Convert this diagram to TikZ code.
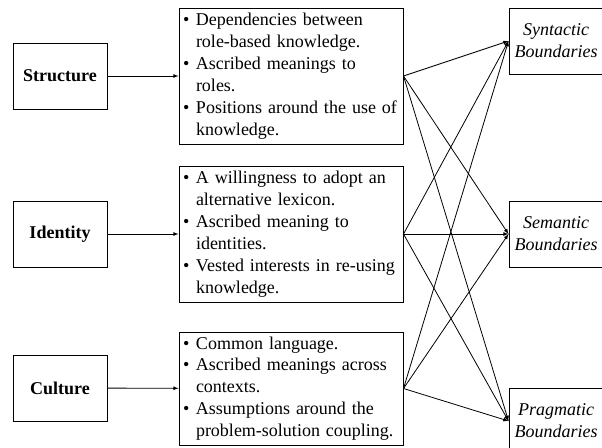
\documentclass[tikz,border=0pt]{standalone}
\usepackage{fontspec}
\setmainfont{Liberation Serif}
\usepackage{tikz}
\usetikzlibrary{arrows}
\newcommand{\bul}{\hspace*{3pt}\makebox[13pt][l]{\textbullet}}
\newcommand{\cont}{\hspace*{16pt}}

\begin{document}
\begin{tikzpicture}[x=1pt,y=-1pt,
  factor/.style={draw,line width=1pt,minimum width=94pt,minimum height=66pt,inner sep=0pt,
    font=\fontsize{18}{21.9}\selectfont\bfseries},
  detail/.style={draw,line width=1pt,text width=222pt,inner xsep=1pt,inner ysep=4pt,align=left,
    font=\fontsize{18}{21.9}\selectfont},
  bound/.style={draw,line width=1pt,minimum width=94pt,minimum height=66pt,inner sep=0pt,
    align=center,font=\fontsize{18}{21.9}\selectfont\itshape}]
\useasboundingbox (0,0) rectangle (602,447);
\node[factor] (str) at (60,76) {Structure};
\node[factor] (idn) at (60,234) {Identity};
\node[factor] (cul) at (60,388) {Culture};
\node[detail,minimum height=136pt] (d1) at (291,76)
  {\bul Dependencies between\\ \cont role-based knowledge.\\ \bul Ascribed meanings to\\ \cont roles.\\
   \bul \mbox{Positions around the use of}\\ \cont knowledge.};
\node[detail,minimum height=136pt] (d2) at (291,234)
  {\bul A willingness to adopt an\\ \cont alternative lexicon.\\ \bul Ascribed meaning to\\ \cont identities.\\
   \bul \mbox{Vested interests in re-using}\\ \cont knowledge.};
\node[detail,minimum height=113pt] (d3) at (291,388.5)
  {\bul Common language.\\ \bul Ascribed meanings across\\ \cont contexts.\\
   \bul Assumptions around the\\ \cont \mbox{problem-solution coupling.}};
\node[bound] (syn) at (556,41) {Syntactic\\Boundaries};
\node[bound] (sem) at (556,234) {Semantic\\Boundaries};
\node[bound] (prag) at (556,421) {Pragmatic\\Boundaries};
% factors to their details
\draw[-latex,line width=0.8pt] (str) -- (d1);
\draw[-latex,line width=0.8pt] (idn) -- (d2);
\draw[-latex,line width=0.8pt] (cul) -- (d3);
% every detail box to every boundary
\foreach \m in {d1,d2,d3}
  \foreach \b in {syn,sem,prag}
    \draw[-latex,line width=0.8pt] (\m.east) -- (\b.west);
\end{tikzpicture}
\end{document}
